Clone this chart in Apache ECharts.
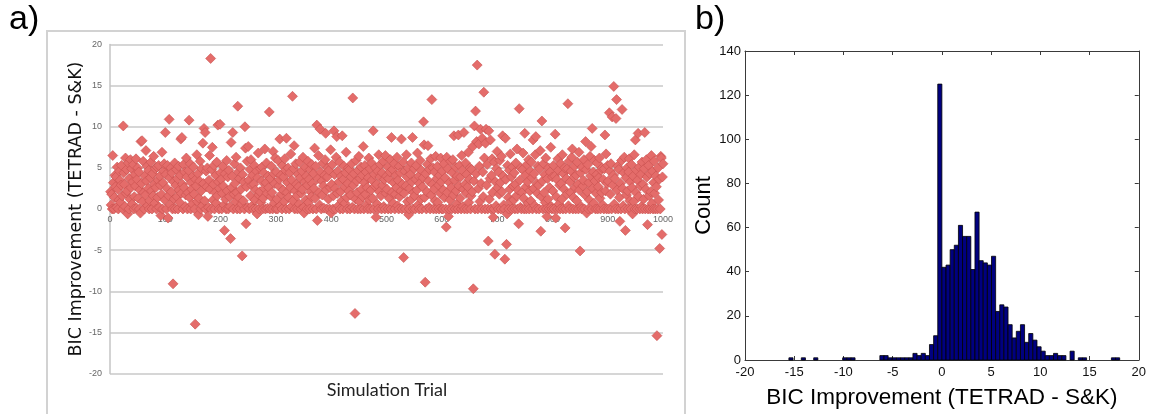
<!DOCTYPE html>
<html>
<head>
<meta charset="utf-8">
<script src="https://cdn.jsdelivr.net/npm/echarts@6/dist/echarts.min.js"></script>
<style>
  html, body { margin: 0; padding: 0; background: #fff; }
  #chart { width: 1149px; height: 414px; }
</style>
</head>
<body>
<div id="chart"></div>
<script>
// BIC improvement per simulation trial, read off panel a), 100 trials per block
const trials001to100 = [
  2.1, 0.5, 1.8, 0, 6.5, 3.2, 0, 1.4, 4.1, 2.7,
  3.9, 0.2, 5.1, 2.4, 0, 1.1, 4.6, 3.5, 0.8, 2.9,
  5.3, 1.6, 0, 10.1, 4.4, 3.0, 0.3, 6.2, 1.9, 4.8,
  2.2, -0.6, 5.6, 0, 3.7, 1.2, 6.0, 2.6, 4.9, 0.6,
  3.3, 5.4, 0, 1.5, 4.2, 2.8, 6.1, 0.1, 3.6, 5.0,
  1.3, 4.5, 0, 2.3, -0.5, 8.2, 3.1, 8.3, 0.9, 5.8,
  2.0, 0, 4.0, 1.7, 7.1, 3.4, 5.2, 0.4, 2.5, 4.7,
  0, 1.0, 3.8, 5.7, 2.2, 0, 4.3, 1.6, 6.4, 3.0,
  0.7, 4.9, 2.6, 0, 5.1, 1.4, 3.5, 5.3, 0.2, 4.0,
  2.9, -0.8, 1.8, 6.9, 0, 3.2, 4.6, 5.5, 1.1, 9.3
]
const trials101to200 = [
  4.2, 0, 2.5, 5.3, -1.1, 1.6, 10.9, 3.8, 0.5, 5.0,
  2.1, 4.4, 0, -9.1, 3.3, 1.2, 5.6, 0, 2.9, 4.8,
  1.5, 3.7, 0, 5.2, 2.3, 0.8, 4.1, 8.5, 1.9, 8.7,
  3.0, 0, 5.4, 2.6, 4.5, 0.3, 1.7, 6.2, 3.9, 0,
  2.0, 4.7, 10.8, 1.4, 5.5, 0, 3.2, 2.4, 0.6, 4.0,
  5.1, 1.8, 0, -14.0, 3.6, 2.8, 6.6, 0.9, 4.3, -0.7,
  1.3, 3.4, 5.8, 0, 2.2, 4.9, 0.4, 8.0, 3.1, 9.8,
  1.0, 9.3, 0, 4.6, 2.7, 5.0, -0.9, 0.2, 3.5, 6.5,
  2.4, 18.3, 0, 4.8, 7.5, 1.1, 3.0, 5.3, 0, 2.0,
  4.1, 0.7, 5.7, 1.6, 10.2, 3.3, 0, 2.5, 10.3, 4.4
]
const trials201to300 = [
  3.6, 0, 1.9, 5.2, 2.8, 0.5, -2.6, 4.3, 1.2, 0,
  5.9, 2.2, 3.9, 0, 4.7, 1.5, 0.3, -3.6, 8.1, 2.6,
  4.0, 9.3, 0, 1.8, 5.5, 3.1, 0.9, 6.3, 2.0, 0,
  12.5, 4.5, 1.4, 3.7, 0, 5.0, 2.4, 0.6, -5.7, 4.2,
  1.0, 3.3, 0, 10.0, 7.4, -1.8, 2.7, 5.8, 0.2, 7.6,
  3.5, 0, 4.8, 1.6, 6.0, 2.9, 0.4, 4.1, 0, 3.0,
  5.3, 1.1, 2.3, 0, 4.6, -0.6, 3.8, 6.8, 1.7, 0,
  2.1, 4.9, 0.8, 3.4, 5.1, 0, 1.3, 4.4, 2.5, 7.3,
  0, 3.2, 5.6, 1.9, 0.1, 4.0, 2.6, 11.8, 0, 3.7,
  1.5, 5.2, 2.0, 0, 7.0, 4.3, 0.7, 3.1, 6.2, 0
]
const trials301to400 = [
  4.5, 1.2, 0, 5.9, 2.8, 3.6, 8.5, 0.4, 4.1, 1.8,
  0, 5.3, 2.3, 3.9, 0.9, 6.1, 4.7, 0, 8.6, 2.0,
  3.2, 5.0, 1.4, 0, 4.4, 2.6, 6.7, 0.3, 3.5, 13.7,
  1.0, 4.9, 7.7, 0, 2.2, 5.5, 3.0, 1.6, 0, 4.2,
  2.7, 0.6, 5.7, 3.8, 0, 1.9, 4.6, 2.4, 6.3, 0.2,
  -0.5, 3.3, 5.1, 1.1, 4.0, 0, 2.9, 5.8, 0.8, 3.6,
  0, 4.8, 2.1, 1.5, 5.4, 3.1, 0, 4.3, 2.5, 7.4,
  1.3, 5.2, 0, 10.2, -1.4, 3.7, 6.5, 2.0, 0.5, 9.7,
  4.5, 0, 3.4, 1.7, 5.6, 2.8, 0.1, 4.1, 6.0, 9.2,
  2.3, 0, 3.9, 5.0, 1.2, 4.7, 0, 2.6, 7.2, -0.5
]
const trials401to500 = [
  3.0, 5.4, 0, 1.6, 9.5, 4.2, 2.5, 0, 6.3, 8.8,
  1.9, 4.6, 0.4, 3.3, 5.7, 0, 2.1, 4.0, 1.0, 8.9,
  0, 3.6, 5.2, 2.7, 0.7, 4.4, 6.9, 1.4, 0, 3.1,
  5.0, 2.2, 4.8, 0, 1.7, 3.9, 5.5, 0.2, 13.5, 2.9,
  4.3, 0, -12.7, 1.2, 5.9, 3.4, 2.0, 0, 4.7, 6.4,
  0.9, 3.7, 0, 5.1, 2.4, 4.1, 1.5, 7.6, 0, 3.2,
  5.3, 1.8, 4.5, 0.5, 2.6, 0, 3.8, 6.2, 1.1, 4.9,
  0, 2.3, 5.6, 3.5, 1.3, 9.5, 0, 4.2, 2.8, 5.0,
  -1.0, 3.0, 0.6, 4.6, 0, 6.6, 2.1, 3.9, 5.4, 1.6,
  0, 4.4, 2.9, 5.8, 0.3, 3.6, 0, 6.5, 1.9, 4.0
]
const trials501to600 = [
  2.4, 5.1, 0, 3.7, 1.3, 4.5, 6.0, 0, 8.7, 2.0,
  4.8, 0.7, 3.2, 5.5, 0, 1.8, 4.1, 2.6, 6.3, 0.4,
  3.5, 0, 5.2, 1.5, 4.4, 2.2, 8.5, 0, 3.0, 5.7,
  -5.9, 1.9, 4.6, 0, 2.8, 6.6, 3.9, 0.9, 5.0, -0.7,
  0, 2.5, 4.2, 1.1, 5.6, 3.3, 8.7, 0, 2.0, 4.9,
  1.6, 0, 3.6, 5.3, 2.3, 6.8, 0.5, 4.0, 0, 3.1,
  5.9, 1.2, 4.7, 0, 2.7, 3.8, 10.6, 7.8, 1.4, -8.9,
  4.3, 0, 2.1, 5.4, 7.7, 3.4, 0.2, 4.8, 0, 6.1,
  1.7, 13.3, 3.0, 5.0, 0, 2.4, 4.5, 1.0, 6.4, 0,
  3.7, 5.2, 0.8, 2.9, 0, 4.1, 1.9, 6.2, 3.3, 0
]
const trials601to700 = [
  4.6, 0, 2.3, 5.5, 1.4, 3.8, 0, -2.2, 6.3, 2.0,
  4.9, -0.9, 0, 3.2, 1.1, 5.8, 2.6, 0, 4.4, 6.0,
  1.7, 8.9, 3.5, 0, 5.1, 2.2, 0.6, 4.0, 0, 9.0,
  2.8, 5.3, 1.3, 3.9, 0, 6.5, 4.7, 0.3, 2.4, 9.3,
  0, 3.0, 5.6, 1.9, 4.2, 0, 2.7, 6.9, 0.8, 3.6,
  5.0, 0, 1.6, 4.8, 2.1, 7.6, -9.7, 3.4, 10.1, 0,
  11.9, 4.3, 8.2, 17.5, 0, 2.5, 7.9, 5.2, 0.9, 9.7,
  3.1, 0, 8.6, 4.5, 1.5, 14.2, 6.2, 0, 8.0, 9.7,
  2.9, 5.4, 0, -3.9, 9.5, 1.2, 3.7, 8.4, 0, 4.1,
  6.1, 2.0, -1.0, 0, 5.7, -5.5, 3.3, 0.4, 4.9, 7.0
]
const trials701to800 = [
  2.6, 0, 4.5, 1.8, 5.9, 3.2, 0, 6.4, 2.1, 8.9,
  4.0, 0.5, 0, -6.1, 8.6, 3.6, -4.3, -0.6, 5.3, 1.4,
  0, 4.7, 2.4, 6.7, 0.9, 3.9, 0, 5.1, 2.8, 1.1,
  4.4, 0, 3.0, 5.6, 1.6, 7.3, 0, 2.3, -1.8, 12.2,
  3.5, 0.2, 5.0, 0, 2.0, 4.8, 6.8, 1.3, 0, 9.2,
  4.1, 2.7, 0, 5.4, 3.3, 0.7, 6.0, 0, 2.2, 4.6,
  1.0, 5.7, 3.8, 0, 8.4, 2.5, 4.3, 0.4, 6.6, 8.8,
  0, 3.1, 1.9, 5.2, 2.9, 0, 4.9, 7.1, -2.7, 1.5,
  10.7, 3.4, 0, 5.5, 2.0, 4.2, 0.8, 6.2, 0, -0.9,
  3.7, 1.2, 5.0, 0, 2.6, 4.5, 7.5, 0.3, 0, 3.9
]
const trials801to900 = [
  2.2, 5.3, 0, 4.0, 9.1, -1.1, 1.5, 3.6, 0, 6.1,
  4.7, 0.6, 2.9, 0, 5.5, 3.1, 1.2, 6.6, 0, 4.3,
  2.4, 5.0, -2.3, 0, 3.7, 1.8, 4.9, 12.8, 0.4, 5.8,
  0, 3.3, 2.0, 4.6, 6.3, 7.3, 0, 1.4, 3.9, 5.2,
  2.6, 0, 4.1, 1.0, 5.7, 3.0, 0, 6.9, 2.3, -5.1,
  4.4, 0.3, 0, 5.1, 2.8, 3.5, 6.0, 0, 1.7, 8.2,
  4.8, -0.5, 2.1, 5.4, 0, 3.2, 1.1, 6.4, 4.0, 7.6,
  0, 9.8, 2.5, 4.5, 0.7, 5.9, 3.4, 0, 1.9, 4.2,
  5.6, 0, 2.7, 3.8, 6.2, 1.3, 0, 4.7, 2.0, 5.0,
  0.5, 3.6, 0, 4.9, 9.0, 2.2, 6.7, 0, 3.1, 5.3
]
const trials901to1000 = [
  3.4, 0, 11.7, 4.6, 1.8, 5.5, 0, 11.2, 2.9, 4.1,
  14.9, 0.6, 3.7, 0, 11.0, 13.3, 2.3, 5.2, 0, 4.8,
  1.4, -1.5, 3.1, 0, 5.9, 12.1, 2.5, 0.4, 4.4, 6.3,
  0, -2.6, 3.8, 1.7, 5.0, 2.2, 0, 4.5, 6.1, 1.0,
  3.3, 0, 5.4, 2.6, -0.6, 4.0, 0.9, 6.6, 0, 8.4,
  2.0, 4.7, 0, 3.5, 9.2, 1.5, 5.1, 0, 2.8, 4.2,
  0.3, 5.7, 0, 3.0, 1.2, 4.9, 9.3, 0, 2.4, 6.0,
  3.9, -1.9, 0, 5.3, 1.6, 4.3, 0, 2.1, 6.5, 0.7,
  4.6, 0, 3.2, 5.8, 1.9, 0, 4.0, 2.7, -15.4, 0,
  5.0, 1.1, 3.6, -4.8, 0, 6.4, 6.2, -3.1, 3.9, 5.5
]

// histogram of panel b): first bin edge, bin width and counts per bin
const histFirstEdge = -15.54
const histBinWidth = 0.42
const histCounts = [
  1, 0, 0, 1, 0, 0, 1, 0, 0, 0,
  0, 0, 0, 1, 1, 1, 0, 0, 0, 0,
  0, 0, 2, 2, 1, 1, 1, 1, 1, 1,
  3, 2, 3, 2, 7, 11, 125, 42, 43, 50,
  52, 61, 56, 56, 41, 67, 45, 44, 43, 47,
  22, 25, 24, 16, 10, 13, 16, 8, 12, 9,
  6, 4, 2, 2, 3, 2, 2, 0, 4, 0,
  1, 1, 0, 0, 0, 0, 0, 0, 1, 1
]

const scatterTicks = { min: 0, max: 1000, interval: 100 }
const scoreTicks = { min: -20, max: 20, interval: 5 }
const histXTicks = { min: -20, max: 20, interval: 5 }
const countTicks = { min: 0, max: 140, interval: 20 }

const trialScores = [].concat(
  trials001to100, trials101to200, trials201to300, trials301to400, trials401to500,
  trials501to600, trials601to700, trials701to800, trials801to900, trials901to1000
)
const scatterData = trialScores.map((v, i) => [i + 1, v])
const histData = histCounts.map((c, k) => {
  const lo = +(histFirstEdge + k * histBinWidth).toFixed(2)
  return [lo, +(lo + histBinWidth).toFixed(2), c]
})

const BOX = '#3a3a3a'
// scatter plot area: top 44.5, bottom 373.5 -> the 0 line sits half way up
const SCATTER_TOP = 44.5
const SCATTER_BOTTOM = 40.5
const scatterHalf = (414 - SCATTER_TOP - SCATTER_BOTTOM) / 2

const chart = echarts.init(document.getElementById('chart'))

chart.setOption({
  animation: false,
  backgroundColor: '#fff',
  title: [
    { text: 'a)', left: 9, top: 3, padding: 0,
      textStyle: { fontFamily: 'Liberation Sans', fontSize: 34, fontWeight: 'normal', color: '#000' } },
    { text: 'b)', left: 695, top: 3, padding: 0,
      textStyle: { fontFamily: 'Liberation Sans', fontSize: 34, fontWeight: 'normal', color: '#000' } },
    { text: 'Simulation Trial', left: 387, top: 381, textAlign: 'center', padding: 0,
      textStyle: { fontFamily: 'Lato', fontSize: 18, fontWeight: 'normal', color: '#222' } }
  ],
  graphic: [
    { type: 'rect', z: -1, silent: true,
      shape: { x: 47, y: 31, width: 638, height: 400 },
      style: { fill: 'none', stroke: '#d2d2d2', lineWidth: 2 } }
  ],
  grid: [
    { left: 110, right: 486, top: SCATTER_TOP, bottom: SCATTER_BOTTOM },
    { left: 745, right: 8, top: 51, bottom: 51.7 }
  ],
  xAxis: [
    { type: 'value', gridIndex: 0, ...scatterTicks,
      offset: -scatterHalf,
      axisLine: { onZero: false, lineStyle: { color: '#c4c4c4', width: 1.5 } },
      axisTick: { show: false },
      axisLabel: { fontFamily: 'Liberation Sans', fontSize: 9, color: '#666', margin: 6,
        formatter: v => String(v) },
      splitLine: { show: false } },
    { type: 'value', gridIndex: 1, ...histXTicks,
      name: 'BIC Improvement (TETRAD - S&K)', nameLocation: 'middle', nameGap: 26,
      nameTextStyle: { fontFamily: 'Liberation Sans', fontSize: 22.5, color: '#000' },
      axisLine: { onZero: false, lineStyle: { color: BOX, width: 1 } },
      axisTick: { inside: true, length: 4, lineStyle: { color: BOX } },
      axisLabel: { fontFamily: 'Liberation Sans', fontSize: 13, color: '#111', margin: 6 },
      splitLine: { show: false } },
    { type: 'value', gridIndex: 1, position: 'top', ...histXTicks,
      axisLine: { onZero: false, lineStyle: { color: BOX, width: 1 } },
      axisTick: { inside: true, length: 4, lineStyle: { color: BOX } },
      axisLabel: { show: false },
      splitLine: { show: false } }
  ],
  yAxis: [
    { type: 'value', gridIndex: 0, ...scoreTicks,
      name: 'BIC Improvement (TETRAD - S&K)', nameLocation: 'middle', nameGap: 22,
      nameTextStyle: { fontFamily: 'DejaVu Sans', fontSize: 17.5, color: '#111' },
      axisLine: { show: true, onZero: false, lineStyle: { color: '#c4c4c4', width: 1.5 } },
      axisTick: { show: false },
      axisLabel: { fontFamily: 'Liberation Sans', fontSize: 9, color: '#666', margin: 8 },
      splitLine: { lineStyle: { color: '#c8c8c8', width: 1.5 } } },
    { type: 'value', gridIndex: 1, ...countTicks,
      name: 'Count', nameLocation: 'middle', nameGap: 28,
      nameTextStyle: { fontFamily: 'Liberation Sans', fontSize: 22, color: '#000' },
      axisLine: { show: true, onZero: false, lineStyle: { color: BOX, width: 1 } },
      axisTick: { inside: true, length: 4, lineStyle: { color: BOX } },
      axisLabel: { fontFamily: 'Liberation Sans', fontSize: 13, color: '#111', margin: 4 },
      splitLine: { show: false } },
    { type: 'value', gridIndex: 1, position: 'right', ...countTicks,
      axisLine: { show: true, onZero: false, lineStyle: { color: BOX, width: 1 } },
      axisTick: { inside: true, length: 4, lineStyle: { color: BOX } },
      axisLabel: { show: false },
      splitLine: { show: false } }
  ],
  series: [
    {
      type: 'scatter',
      xAxisIndex: 0,
      yAxisIndex: 0,
      symbol: 'diamond',
      symbolSize: [10, 10],
      data: scatterData,
      itemStyle: { color: '#e46c6a', borderColor: '#c8514f', borderWidth: 0.6, opacity: 1 }
    },
    {
      type: 'custom',
      xAxisIndex: 1,
      yAxisIndex: 1,
      data: histData,
      encode: { x: [0, 1], y: 2 },
      renderItem: (params, api) => {
        if (!api.value(2)) return null
        const topLeft = api.coord([api.value(0), api.value(2)])
        const bottomRight = api.coord([api.value(1), 0])
        return {
          type: 'rect',
          shape: {
            x: topLeft[0],
            y: topLeft[1],
            width: bottomRight[0] - topLeft[0],
            height: bottomRight[1] - topLeft[1]
          },
          style: { fill: '#000080', stroke: '#000', lineWidth: 0.8 }
        }
      }
    }
  ]
})
</script>
</body>
</html>
